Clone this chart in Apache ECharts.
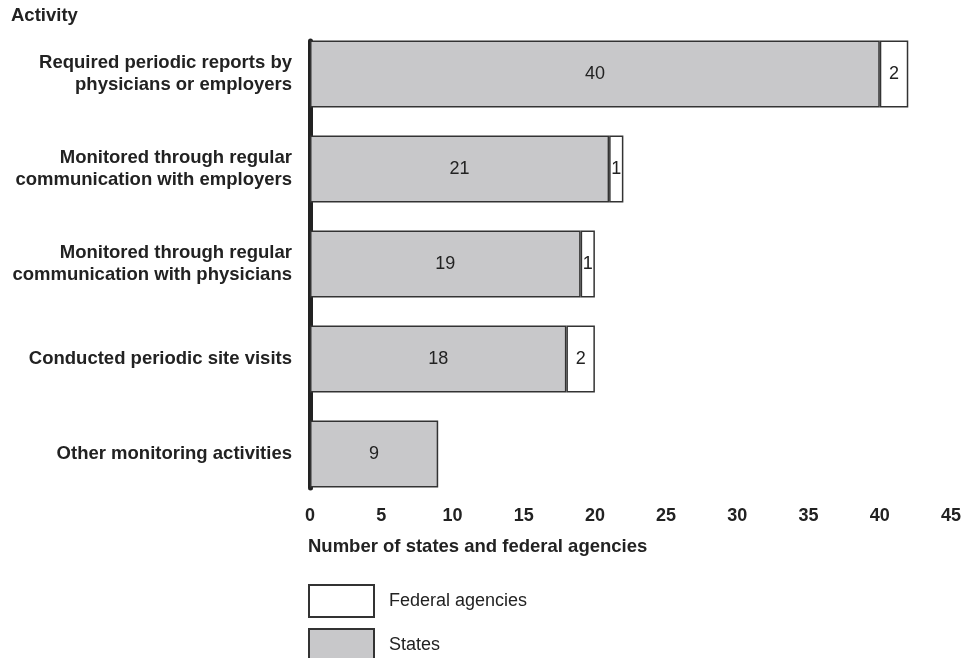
<!DOCTYPE html>
<html><head><meta charset="utf-8">
<script src="https://cdn.jsdelivr.net/npm/echarts@6/dist/echarts.min.js"></script>
<style>html,body{margin:0;padding:0;background:#fff}#c{width:980px;height:658px}</style>
</head><body><div id="c"></div>
<script>
const categories = [
  'Required periodic reports by\nphysicians or employers',
  'Monitored through regular\ncommunication with employers',
  'Monitored through regular\ncommunication with physicians',
  'Conducted periodic site visits',
  'Other monitoring activities'
];
const statesValues = [40, 21, 19, 18, 9];
const federalValues = [2, 1, 1, 2, null];
const xTicks = [0, 5, 10, 15, 20, 25, 30, 35, 40, 45];

const FONT = '"Liberation Sans", Arial, Helvetica, sans-serif';
const chart = echarts.init(document.getElementById('c'), null, {renderer: 'canvas'});
const GL = 310, GW = 641;
chart.setOption({
  animation: false,
  textStyle: {fontFamily: FONT},
  title: [
    {text: 'Activity', left: 11, top: 6, padding: 0, textStyle: {fontFamily: FONT, fontSize: 18.5, fontWeight: 'bold', color: '#222'}},
    {text: 'Number of states and federal agencies', left: 308, top: 537, padding: 0, textStyle: {fontFamily: FONT, fontSize: 18.5, fontWeight: 'bold', color: '#222'}}
  ],
  legend: {
    orient: 'vertical', left: 308, top: 584, height: 80, padding: 0,
    itemWidth: 65, itemHeight: 32, itemGap: 10, icon: 'rect',
    data: ['Federal agencies', 'States'],
    textStyle: {fontFamily: FONT, fontSize: 18, color: '#222', padding: [0, 0, 0, 10]}
  },
  grid: [
    {left: GL, width: GW, top: 26.5, height: 475},
    {left: GL, width: GW, top: 41, height: 447}
  ],
  xAxis: [
    {type: 'value', gridIndex: 0, min: xTicks[0], max: xTicks[xTicks.length - 1], interval: 5,
     axisLine: {show: false}, axisTick: {show: false}, splitLine: {show: false},
     axisLabel: {fontFamily: FONT, fontSize: 18, fontWeight: 'bold', color: '#222', margin: 6}},
    {type: 'value', gridIndex: 1, min: 0, max: 45, show: false}
  ],
  yAxis: [
    {type: 'category', gridIndex: 0, data: categories, inverse: true,
     axisLine: {show: false}, axisTick: {show: false},
     axisLabel: {fontFamily: FONT, fontSize: 18.5, fontWeight: 'bold', color: '#222', margin: 18, lineHeight: 22, align: 'right'}},
    {type: 'value', gridIndex: 1, min: 0, max: 1,
     axisLine: {show: true, onZero: false, lineStyle: {color: '#222', width: 5}},
     axisTick: {show: false}, axisLabel: {show: false}, splitLine: {show: false}}
  ],
  series: [
    {name: 'States', type: 'bar', stack: 'a', xAxisIndex: 0, yAxisIndex: 0, data: statesValues, barWidth: 67,
     itemStyle: {color: '#c8c8ca', borderColor: '#333', borderWidth: 1.5},
     label: {show: true, position: 'inside', fontFamily: FONT, fontSize: 18, color: '#222'}},
    {name: 'Federal agencies', type: 'bar', stack: 'a', xAxisIndex: 0, yAxisIndex: 0, data: federalValues, barWidth: 67,
     itemStyle: {color: '#ffffff', borderColor: '#333', borderWidth: 1.5},
     label: {show: true, position: 'inside', fontFamily: FONT, fontSize: 18, color: '#222'}}
  ]
});
</script></body></html>
